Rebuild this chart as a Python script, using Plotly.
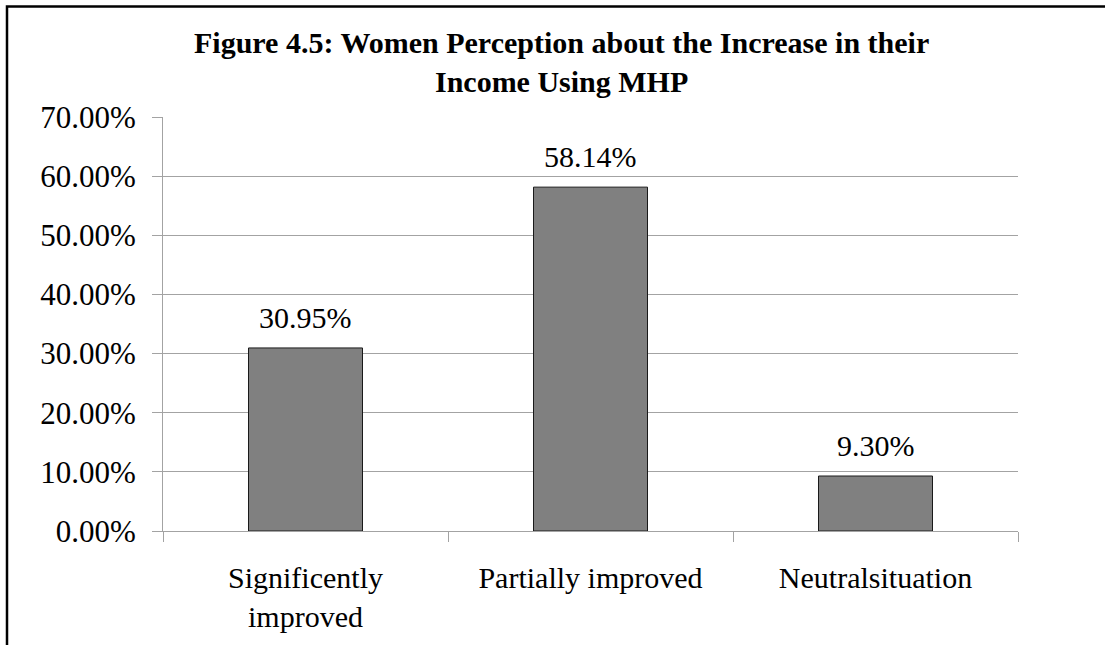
import plotly.graph_objects as go

# Survey responses: perceived change in income after using MHP
categories = ["Significently<br>improved", "Partially improved", "Neutralsituation"]
shares = [0.3095, 0.5814, 0.0930]
y_ticks = [0.0, 0.1, 0.2, 0.3, 0.4, 0.5, 0.6, 0.7]
title_text = "<b>Figure 4.5: Women Perception about the Increase in their<br>Income Using MHP</b>"

W, H = 1105, 645
ML, MR, MT, MB = 163, 87, 117, 112
plot_w = W - ML - MR
plot_h = H - MT - MB

FONT = "Liberation Serif, Times New Roman, serif"
GRID = "#a3a3a3"


def px_to_paper_x(px):
    return (px - ML) / plot_w


def px_to_paper_y(py):
    return (H - MB - py) / plot_h


fig = go.Figure()
fig.add_trace(
    go.Bar(
        x=categories,
        y=shares,
        width=0.4,
        marker=dict(color="#808080", line=dict(color="#1a1a1a", width=1)),
        hoverinfo="skip",
    )
)

# value labels above each bar
for cat, val in zip(categories, shares):
    fig.add_annotation(
        x=cat,
        y=val,
        text=f"{val:.2%}",
        showarrow=False,
        yanchor="bottom",
        yshift=12,
        font=dict(family=FONT, size=30, color="#000000"),
    )

# chart title, two lines, centred over the chart area
fig.add_annotation(
    xref="paper",
    yref="paper",
    x=px_to_paper_x(561),
    y=px_to_paper_y(24),
    xanchor="center",
    yanchor="top",
    text=title_text,
    showarrow=False,
    align="center",
    font=dict(family=FONT, size=30, color="#000000"),
)

# outer chart-area frame (left and top edges visible)
fig.add_shape(
    type="rect",
    xref="paper",
    yref="paper",
    x0=px_to_paper_x(7),
    x1=px_to_paper_x(1125),
    y0=px_to_paper_y(660),
    y1=px_to_paper_y(6),
    line=dict(color="#000000", width=2.5),
    fillcolor="rgba(0,0,0,0)",
    layer="above",
)

fig.update_layout(
    width=W,
    height=H,
    margin=dict(l=ML, r=MR, t=MT, b=MB, pad=0),
    paper_bgcolor="#ffffff",
    plot_bgcolor="#ffffff",
    showlegend=False,
    bargap=0.6,
    xaxis=dict(
        type="category",
        tickson="boundaries",
        ticks="outside",
        ticklen=10,
        tickcolor=GRID,
        tickwidth=1,
        showline=True,
        linecolor=GRID,
        linewidth=1,
        showgrid=False,
        ticklabelstandoff=20,
        tickfont=dict(family=FONT, size=30, color="#000000"),
        fixedrange=True,
    ),
    yaxis=dict(
        range=[0, 0.7],
        tickvals=y_ticks,
        tickformat=".2%",
        ticks="outside",
        ticklen=10,
        tickcolor=GRID,
        tickwidth=1,
        showline=True,
        linecolor=GRID,
        linewidth=1,
        showgrid=True,
        gridcolor=GRID,
        gridwidth=1,
        zeroline=False,
        ticklabelstandoff=10,
        tickfont=dict(family=FONT, size=31, color="#000000"),
        fixedrange=True,
    ),
)

fig.write_html("out.html")
